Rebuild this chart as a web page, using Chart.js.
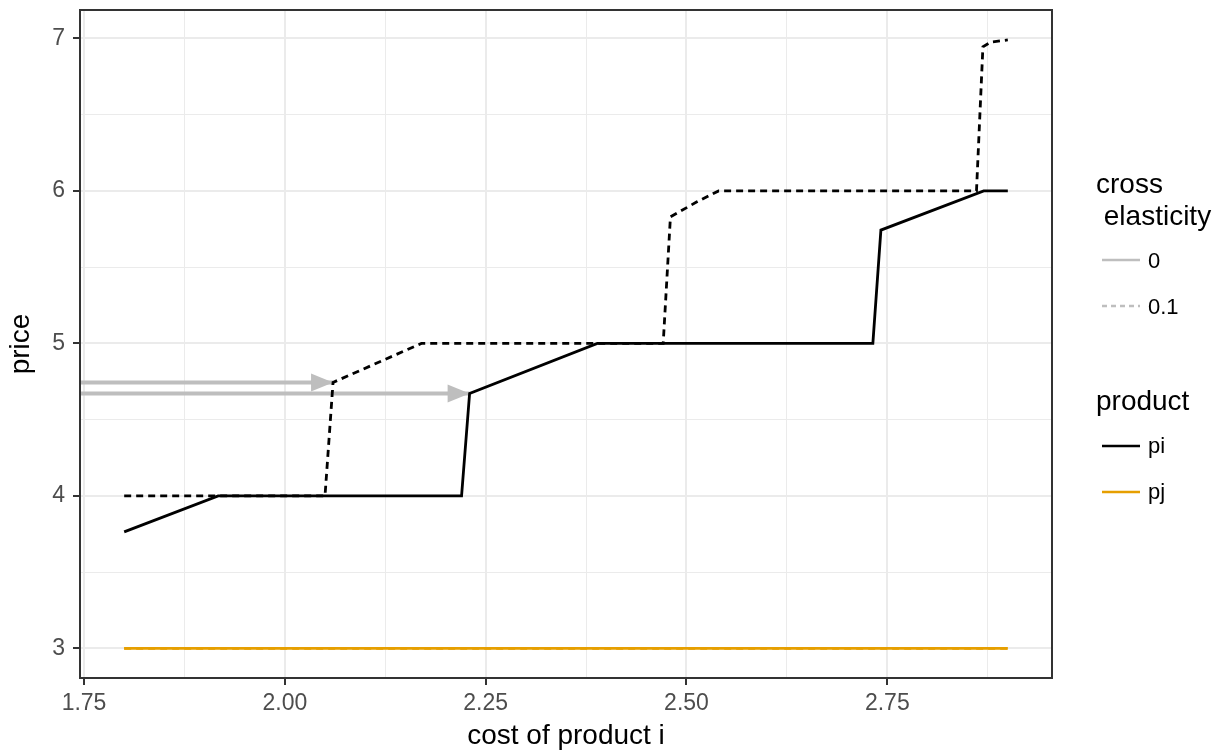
<!DOCTYPE html>
<html>
<head>
<meta charset="utf-8">
<script src="https://cdn.jsdelivr.net/npm/chart.js@4.4.1/dist/chart.umd.min.js"></script>
<style>
  body { margin: 0; background: #fff; font-family: 'Liberation Sans', Arial, sans-serif; }
  #wrap { position: relative; width: 1227px; height: 753px; }
  .lg { position: absolute; color: #000; white-space: pre; }
  .lt { font-size: 28px; line-height: 32px; }
  .ll { font-size: 22px; line-height: 22px; }
  .key { position: absolute; }
</style>
</head>
<body>
<div id="wrap">
  <canvas id="chart" width="1227" height="753"></canvas>
  <div id="legend"></div>
</div>
<script>
// price of product i, cross elasticity 0 (solid) and 0.1 (dashed)
const costSolid = [1.8, 1.917, 2.22, 2.23, 2.389, 2.732, 2.742, 2.87, 2.9]
const priceSolid = [3.764, 4.0, 4.0, 4.672, 5.0, 5.0, 5.743, 6.0, 6.0]
const costDashed = [1.8, 2.05, 2.06, 2.17, 2.471, 2.48, 2.513, 2.54, 2.861, 2.869, 2.879, 2.9]
const priceDashed = [4.0, 4.0, 4.744, 5.0, 5.0, 5.83, 5.928, 6.0, 6.0, 6.945, 6.976, 6.99]
// price of product j (same for both elasticities)
const costPj = [1.8, 2.9]
const pricePj = [3, 3]
// grey arrows pointing at the first jumps
const arrowFrom = [1.745, 1.745]
const arrowTo = [2.06, 2.23]
const arrowPrice = [4.744, 4.672]

const xMajor = [1.75, 2.0, 2.25, 2.5, 2.75]
const xTickLabels = ['1.75', '2.00', '2.25', '2.50', '2.75']
const xMinor = [1.875, 2.125, 2.375, 2.625, 2.875]
const yMajor = [3, 4, 5, 6, 7]
const yTickLabels = ['3', '4', '5', '6', '7']
const yMinor = [3.5, 4.5, 5.5, 6.5]

const elasticityLevels = ['0', '0.1']
const productLevels = ['pi', 'pj']

const BLACK = '#000000'
const ORANGE = '#E69F00'
const GREY = '#BEBEBE'
const DASH = [7, 5]

const toPts = (xs, ys) => xs.map((x, i) => ({x: x, y: ys[i]}))
const isIn = (v, arr) => arr.some(m => Math.abs(m - v) < 1e-9)
const labelFor = (v, major, labels) => {
  const i = major.findIndex(m => Math.abs(m - v) < 1e-9)
  return i >= 0 ? labels[i] : ''
}

Chart.defaults.font.family = "'Liberation Sans', Arial, sans-serif"

const panelBorder = {
  id: 'panelBorder',
  afterDatasetsDraw(chart) {
    const {ctx, chartArea: a} = chart
    ctx.save()
    ctx.strokeStyle = '#333333'
    ctx.lineWidth = 2
    ctx.strokeRect(a.left, a.top, a.right - a.left, a.bottom - a.top)
    ctx.restore()
  }
}

const arrowHeads = {
  id: 'arrowHeads',
  afterDatasetDraw(chart, args) {
    const ds = chart.data.datasets[args.index]
    if (!ds.arrow) return
    const pts = args.meta.data
    const tip = pts[pts.length - 1]
    const prev = pts[pts.length - 2]
    const ang = Math.atan2(tip.y - prev.y, tip.x - prev.x)
    const len = 22, half = 9
    const bx = tip.x - len * Math.cos(ang), by = tip.y - len * Math.sin(ang)
    const ctx = chart.ctx
    ctx.save()
    ctx.fillStyle = ds.borderColor
    ctx.beginPath()
    ctx.moveTo(tip.x, tip.y)
    ctx.lineTo(bx + half * Math.sin(ang), by - half * Math.cos(ang))
    ctx.lineTo(bx - half * Math.sin(ang), by + half * Math.cos(ang))
    ctx.closePath()
    ctx.fill()
    ctx.restore()
  }
}

const gridOpts = (major) => ({
  color: '#EBEBEB',
  lineWidth: c => isIn(c.tick.value, major) ? 2 : 1,
  tickColor: c => isIn(c.tick.value, major) ? '#333333' : 'rgba(0,0,0,0)',
  tickWidth: 2,
  tickLength: 7,
  drawTicks: true
})

const datasets = [
  {data: toPts(costSolid, priceSolid), borderColor: BLACK, borderWidth: 2.8},
  {data: toPts(costDashed, priceDashed), borderColor: BLACK, borderWidth: 2.8, borderDash: DASH},
  {data: toPts(costPj, pricePj), borderColor: ORANGE, borderWidth: 2.8},
  {data: toPts(costPj, pricePj), borderColor: ORANGE, borderWidth: 2.8, borderDash: DASH}
]
arrowTo.forEach((x, i) => {
  datasets.push({
    data: toPts([arrowFrom[i], x], [arrowPrice[i], arrowPrice[i]]),
    borderColor: GREY, borderWidth: 4, arrow: true
  })
})

new Chart(document.getElementById('chart'), {
  type: 'line',
  data: {datasets: datasets},
  options: {
    responsive: false,
    animation: false,
    devicePixelRatio: 1,
    layout: {padding: {top: 10, right: 175, bottom: 0, left: 0}},
    elements: {point: {radius: 0}, line: {tension: 0, fill: false, borderCapStyle: 'butt'}},
    plugins: {legend: {display: false}, tooltip: {enabled: false}},
    scales: {
      x: {
        type: 'linear', min: 1.745, max: 2.955,
        afterBuildTicks: s => { s.ticks = xMajor.concat(xMinor).sort((a, b) => a - b).map(v => ({value: v})) },
        afterFit: s => { s.height = 75; s.paddingLeft = 0; s.paddingRight = 0 },
        border: {display: false},
        grid: gridOpts(xMajor),
        ticks: {
          callback: v => labelFor(v, xMajor, xTickLabels),
          color: '#4D4D4D', font: {size: 23}, padding: 5, maxRotation: 0, autoSkip: false
        },
        title: {display: true, text: 'cost of product i', color: '#000', font: {size: 28}, padding: 0}
      },
      y: {
        type: 'linear', min: 2.806, max: 7.186,
        afterBuildTicks: s => { s.ticks = yMajor.concat(yMinor).sort((a, b) => a - b).map(v => ({value: v})) },
        afterFit: s => { s.width = 80; s.paddingTop = 0; s.paddingBottom = 0 },
        border: {display: false},
        grid: gridOpts(yMajor),
        ticks: {
          callback: v => labelFor(v, yMajor, yTickLabels),
          color: '#4D4D4D', font: {size: 23}, padding: 8, autoSkip: false
        },
        title: {display: true, text: 'price', color: '#000', font: {size: 28}, padding: {top: 4, bottom: 0}}
      }
    }
  },
  plugins: [arrowHeads, panelBorder]
})

// legend, two groups
const legend = document.getElementById('legend')
const addText = (cls, txt, left, top) => {
  const d = document.createElement('div')
  d.className = 'lg ' + cls
  d.textContent = txt
  d.style.left = left + 'px'
  d.style.top = top + 'px'
  legend.appendChild(d)
}
const addKey = (y, color, dashed) => {
  const svg = document.createElementNS('http://www.w3.org/2000/svg', 'svg')
  svg.setAttribute('class', 'key')
  svg.setAttribute('width', '40')
  svg.setAttribute('height', '10')
  svg.style.left = '1101px'
  svg.style.top = (y - 5) + 'px'
  const ln = document.createElementNS('http://www.w3.org/2000/svg', 'line')
  ln.setAttribute('x1', '1'); ln.setAttribute('x2', '39')
  ln.setAttribute('y1', '5'); ln.setAttribute('y2', '5')
  ln.setAttribute('stroke', color)
  ln.setAttribute('stroke-width', '2.6')
  if (dashed) ln.setAttribute('stroke-dasharray', '5 4')
  svg.appendChild(ln)
  legend.appendChild(svg)
}

addText('lt', 'cross\n elasticity', 1096, 168)
elasticityLevels.forEach((lvl, i) => {
  const y = 260 + i * 46
  addKey(y, GREY, i === 1)
  addText('ll', lvl, 1148, y - 10)
})
addText('lt', 'product', 1096, 385)
productLevels.forEach((p, i) => {
  const y = 446 + i * 46
  addKey(y, i === 0 ? BLACK : ORANGE, false)
  addText('ll', p, 1148, y - 11)
})
</script>
</body>
</html>
